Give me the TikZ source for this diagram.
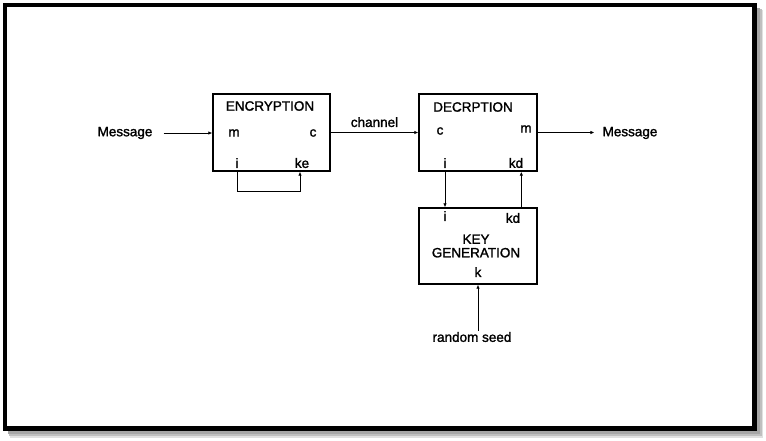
\documentclass[tikz,border=0pt]{standalone}
\usepackage{fontspec}
\setmainfont{Liberation Sans}[FakeBold=1.6]
\usetikzlibrary{arrows.meta}
\tikzset{>=Latex}
\tikzset{block/.style = {draw,line width=1.4pt,inner sep=0pt}}
\tikzset{edge/.style = {->,line width=0.9pt,>={Latex[length=4pt,width=3.5pt]}}}
\tikzset{lbl/.style = {font=\fontsize{13.5}{14.5}\selectfont,inner sep=1pt}}

\begin{document}
\begin{tikzpicture}[x=1pt,y=-1pt]
            \useasboundingbox (0,0) rectangle (766,440);
            % Frame with shadow
            \fill[black!12] (10,10) rectangle (763,438);
            \fill[black!25] (9,9) rectangle (762,436);
            \fill[black!35] (8,8) rectangle (760,434);
            \draw[line width=4.5pt,fill=white] (5,5) rectangle (754.5,428.5);

            % Blocks
            \node[block,minimum width=117pt,minimum height=77pt] (enc) at (271.5,132.5) {};
            \node[block,minimum width=118pt,minimum height=77pt] (dec) at (478,132.5) {};
            \node[block,minimum width=118pt,minimum height=76pt] (key) at (478,246) {};

            % Labels in blocks
            % encryption
            \node[lbl] (enctitle) at (270,106) {ENCRYPTION};
            \node[lbl] (encm) at (234,133) {m};
            \node[lbl] (encc) at (313,133) {c};
            \node[lbl] (enci) at (237,163) {i};
            \node[lbl] (encke) at (302,163) {ke};

            % decryption
            \node[lbl] (dectitle) at (473,107) {DECRPTION};
            \node[lbl] (decc) at (440,131) {c};
            \node[lbl] (decm) at (526,129) {m};
            \node[lbl] (deci) at (445,163) {i};
            \node[lbl] (deckd) at (516,163) {kd};

            % key generation
            \node[lbl] (keyi) at (445,216) {i};
            \node[lbl] (keykd) at (513,218) {kd};
            \node[lbl,align=center] (keytitle) at (476,246) {KEY\\[-1pt]GENERATION};
            \node[lbl] (keyk) at (478,272) {k};

            % Outside texts
            \node[lbl] (msgin) at (125,133) {Message};
            \node[lbl] (msgout) at (630,133) {Message};
            \node[lbl] (seed) at (472,337) {random seed};

            % Edges
            \draw[edge,shorten <=10pt] (msgin.east) -- (enc.west |- msgin.east);
            \draw[edge] (enc.east) -- node[lbl,above=4pt] (chan) {channel} (dec.west);
            \draw[edge,shorten >=7pt] (dec.east) -- (msgout.west |- dec.east);
            \draw[edge] (enc.south -| enci) -- ++(0,20) -| ([xshift=-2pt]enc.south -| encke);

            % dec <-> key
            \draw[edge] (dec.south -| deci) -- (key.north -| deci);
            \draw[edge] (key.north -| keykd.east) -- (dec.south -| keykd.east);

            % seed
            \draw[edge] (key.south |- seed.north) -- (key.south);
        \end{tikzpicture}
\end{document}
